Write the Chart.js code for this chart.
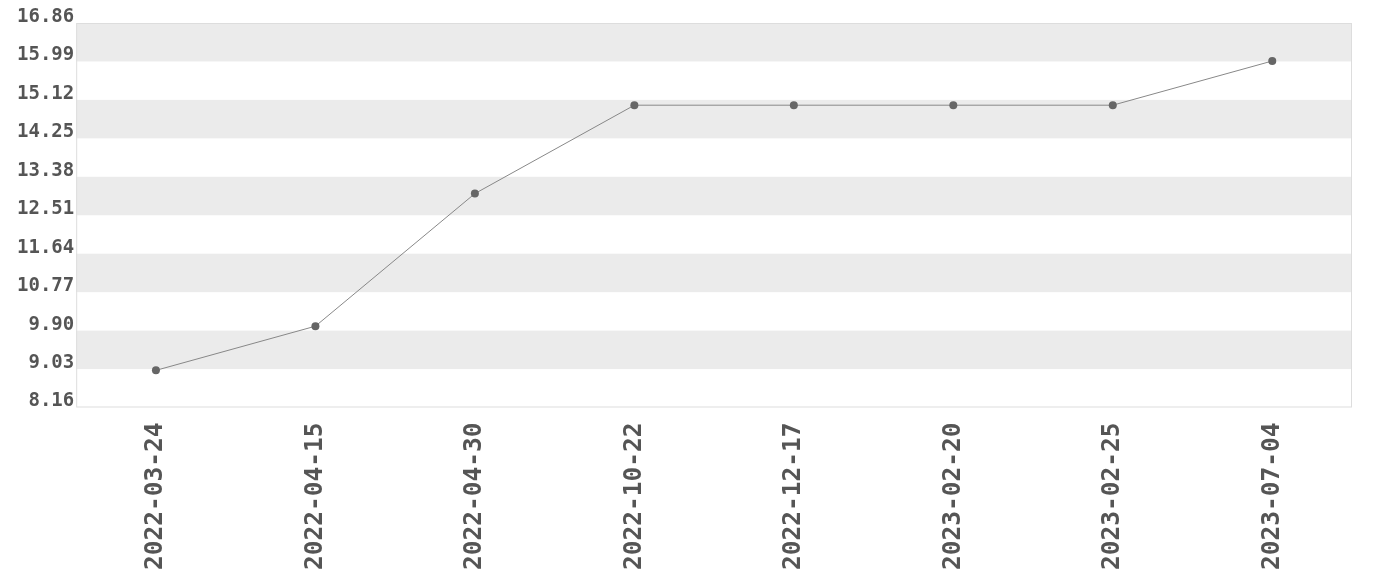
<!DOCTYPE html>
<html>
<head>
<meta charset="utf-8">
<script src="https://cdn.jsdelivr.net/npm/chart.js@4/dist/chart.umd.min.js"></script>
<style>
html,body{margin:0;padding:0;background:#fff;}
#wrap{width:1380px;height:580px;}
</style>
</head>
<body>
<div id="wrap"><canvas id="c" width="1380" height="580"></canvas></div>
<script>
const categories = ["2022-03-24","2022-04-15","2022-04-30","2022-10-22","2022-12-17","2023-02-20","2023-02-25","2023-07-04"];
const values = [9.0, 10.0, 13.0, 15.0, 15.0, 15.0, 15.0, 16.0];
const yTicks = [8.16, 9.03, 9.90, 10.77, 11.64, 12.51, 13.38, 14.25, 15.12, 15.99, 16.86];

const bandPlugin = {
  id: 'bands',
  beforeDatasetsDraw(chart) {
    const {ctx, chartArea, scales} = chart;
    const y = scales.y;
    ctx.save();
    ctx.fillStyle = '#ebebeb';
    for (let i = yTicks.length - 1; i > 0; i -= 2) {
      const top = y.getPixelForValue(yTicks[i]);
      const bot = y.getPixelForValue(yTicks[i-1]);
      ctx.fillRect(chartArea.left, top, chartArea.right - chartArea.left, bot - top);
    }
    ctx.strokeStyle = '#dddddd';
    ctx.lineWidth = 1;
    ctx.strokeRect(chartArea.left + 0.5, chartArea.top + 0.5, chartArea.right - chartArea.left - 1, chartArea.bottom - chartArea.top - 1);
    ctx.restore();
  }
};

new Chart(document.getElementById('c'), {
  type: 'line',
  data: {
    labels: categories,
    datasets: [{
      data: values,
      borderColor: '#888888',
      borderWidth: 1,
      pointBackgroundColor: '#666666',
      pointBorderColor: '#666666',
      pointRadius: 4,
      pointBorderWidth: 0,
      tension: 0
    }]
  },
  options: {
    responsive: false,
    animation: false,
    devicePixelRatio: 1,
    layout: {padding: {top: 23, right: 28, bottom: -5, left: 15}},
    plugins: {legend: {display: false}, tooltip: {enabled: false}},
    scales: {
      x: {
        offset: true,
        grid: {display: false, drawTicks: false},
        border: {display: false},
        ticks: {
          color: '#555555',
          font: {family: 'DejaVu Sans Mono', size: 24.5, weight: 'bold'},
          maxRotation: 90, minRotation: 90,
          padding: 15
        }
      },
      y: {
        min: 8.16, max: 16.86,
        afterBuildTicks(scale) { scale.ticks = yTicks.map(v => ({value: v})); },
        grid: {display: false, drawTicks: false},
        border: {display: false},
        ticks: {
          color: '#555555',
          font: {family: 'DejaVu Sans Mono', size: 19, weight: 'bold'},
          padding: 2,
          labelOffset: -6,
          callback: v => Number(v).toFixed(2)
        }
      }
    }
  },
  plugins: [bandPlugin]
});
</script>
</body>
</html>
